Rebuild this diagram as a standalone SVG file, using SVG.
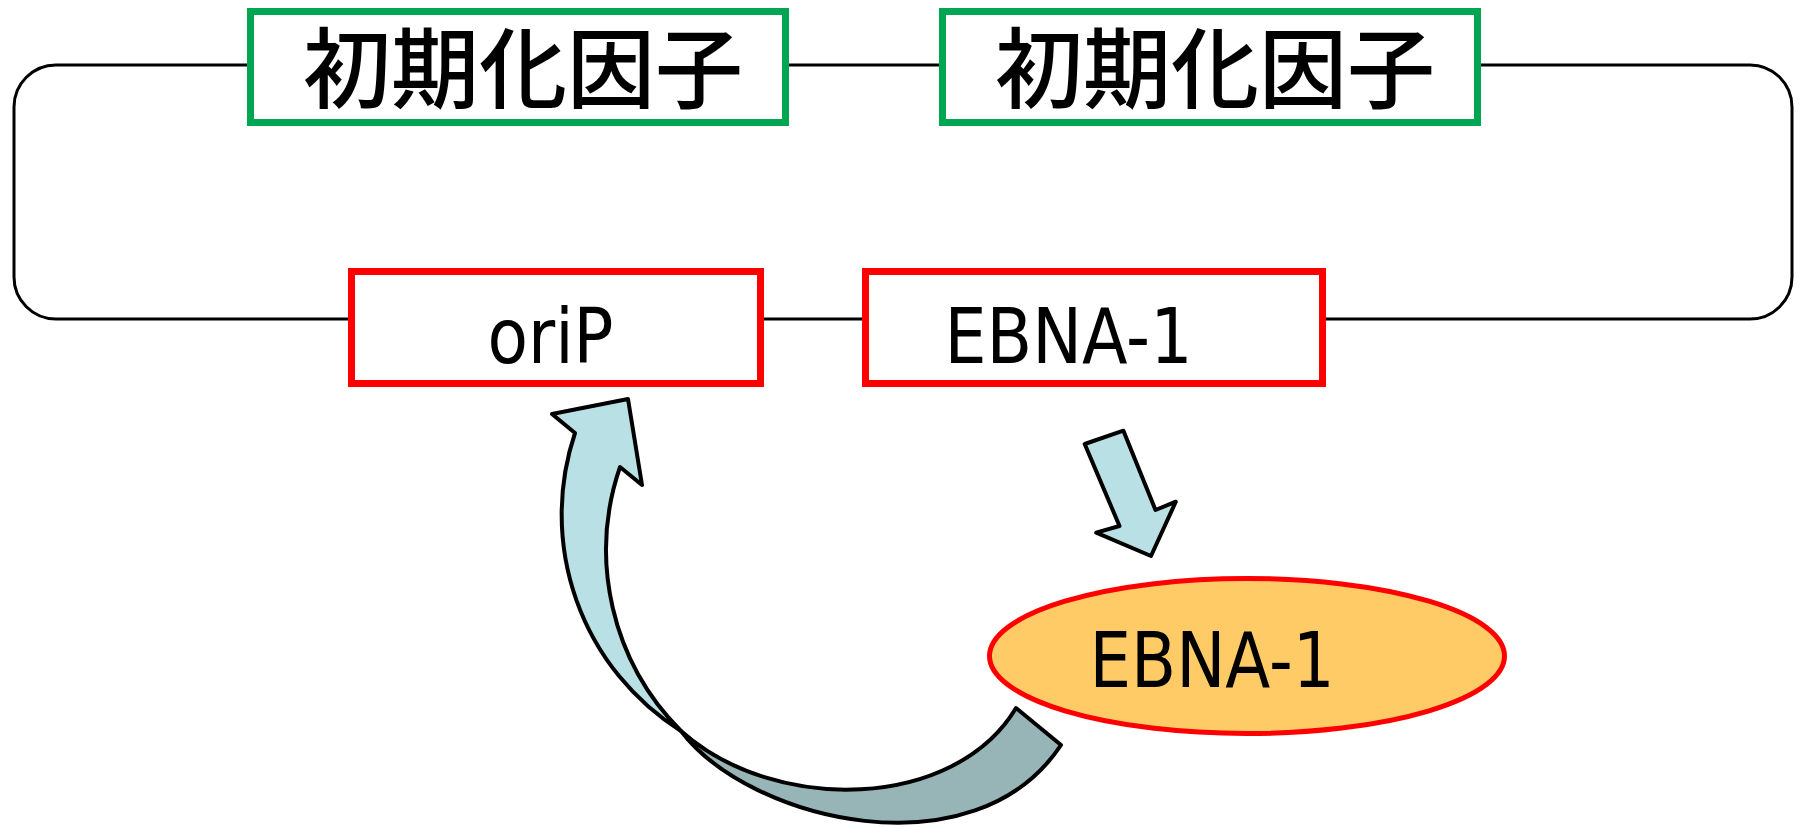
<svg xmlns="http://www.w3.org/2000/svg" width="1803" height="827" viewBox="0 0 1803 827">
  <style>
    .wire { fill: none; stroke: #000; stroke-width: 3; }
    .factor { fill: #fff; stroke: #00A651; stroke-width: 7; }
    .gene { fill: #fff; stroke: #FF0000; stroke-width: 7; }
    .jp { font-family: "Noto Sans CJK JP", "Noto Sans CJK SC", sans-serif; font-size: 88px; font-weight: 500; fill: #000; text-anchor: middle; }
    .lat { font-family: "DejaVu Sans", "Liberation Sans", sans-serif; font-size: 77px; fill: #000; text-anchor: middle; }
    .arrow { stroke: #000; stroke-width: 4; stroke-linejoin: round; }
  </style>
  <rect width="1803" height="827" fill="#fff"/>

  <!-- circuit wiring behind the boxes -->
  <g id="connectors">
    <path class="wire" d="M 250,65 H 56 A 42 42 0 0 0 14,107 V 277 A 42 42 0 0 0 56,319 H 352"/>
    <path class="wire" d="M 1478,65 H 1750 A 42 42 0 0 1 1792,107 V 277 A 42 42 0 0 1 1750,319 H 1322"/>
    <path class="wire" d="M 785,65 H 943"/>
    <path class="wire" d="M 760,319 H 866"/>
  </g>

  <g id="factor-left">
    <rect class="factor" x="250.5" y="11.5" width="535" height="111"/>
    <text class="jp" x="523" y="101">初期化因子</text>
  </g>

  <g id="factor-right">
    <rect class="factor" x="942.5" y="11.5" width="535" height="111"/>
    <text class="jp" x="1215" y="101">初期化因子</text>
  </g>

  <g id="oriP">
    <rect class="gene" x="351.5" y="271.5" width="409" height="112"/>
    <text class="lat" x="550.5" y="363" textLength="126" lengthAdjust="spacingAndGlyphs">oriP</text>
  </g>

  <g id="ebna1-gene">
    <rect class="gene" x="865.5" y="271.5" width="457" height="112"/>
    <text class="lat" x="1068.5" y="363" textLength="248" lengthAdjust="spacingAndGlyphs">EBNA-1</text>
  </g>

  <!-- expression arrow -->
  <g id="arrow-down">
    <path class="arrow" fill="#B9E0E4" d="M 1084.7,444 L 1123.4,430.7 L 1155.5,510 L 1175.8,501.7 L 1151,556 L 1096.2,532.7 L 1119.5,526 Z"/>
  </g>

  <g id="ebna1-protein">
    <ellipse cx="1247" cy="656" rx="257.5" ry="77.5" fill="#FECB66" stroke="#FF0000" stroke-width="5"/>
    <text class="lat" x="1212" y="687" textLength="245" lengthAdjust="spacingAndGlyphs">EBNA-1</text>
  </g>

  <!-- curved return arrow: back face then front face -->
  <g id="arrow-return">
    <path class="arrow" fill="#97B4B6" d="M 681,731 C 750,822 975,875 1061,745 L 1016,708 C 955,810 775,815 681,731 Z"/>
    <path class="arrow" fill="#B9E0E4" d="M 575,433 L 552,414 L 628,399 L 642,485 L 620,467 A 256 256 0 0 0 681,731 A 256 256 0 0 1 575,433 Z"/>
  </g>
</svg>
